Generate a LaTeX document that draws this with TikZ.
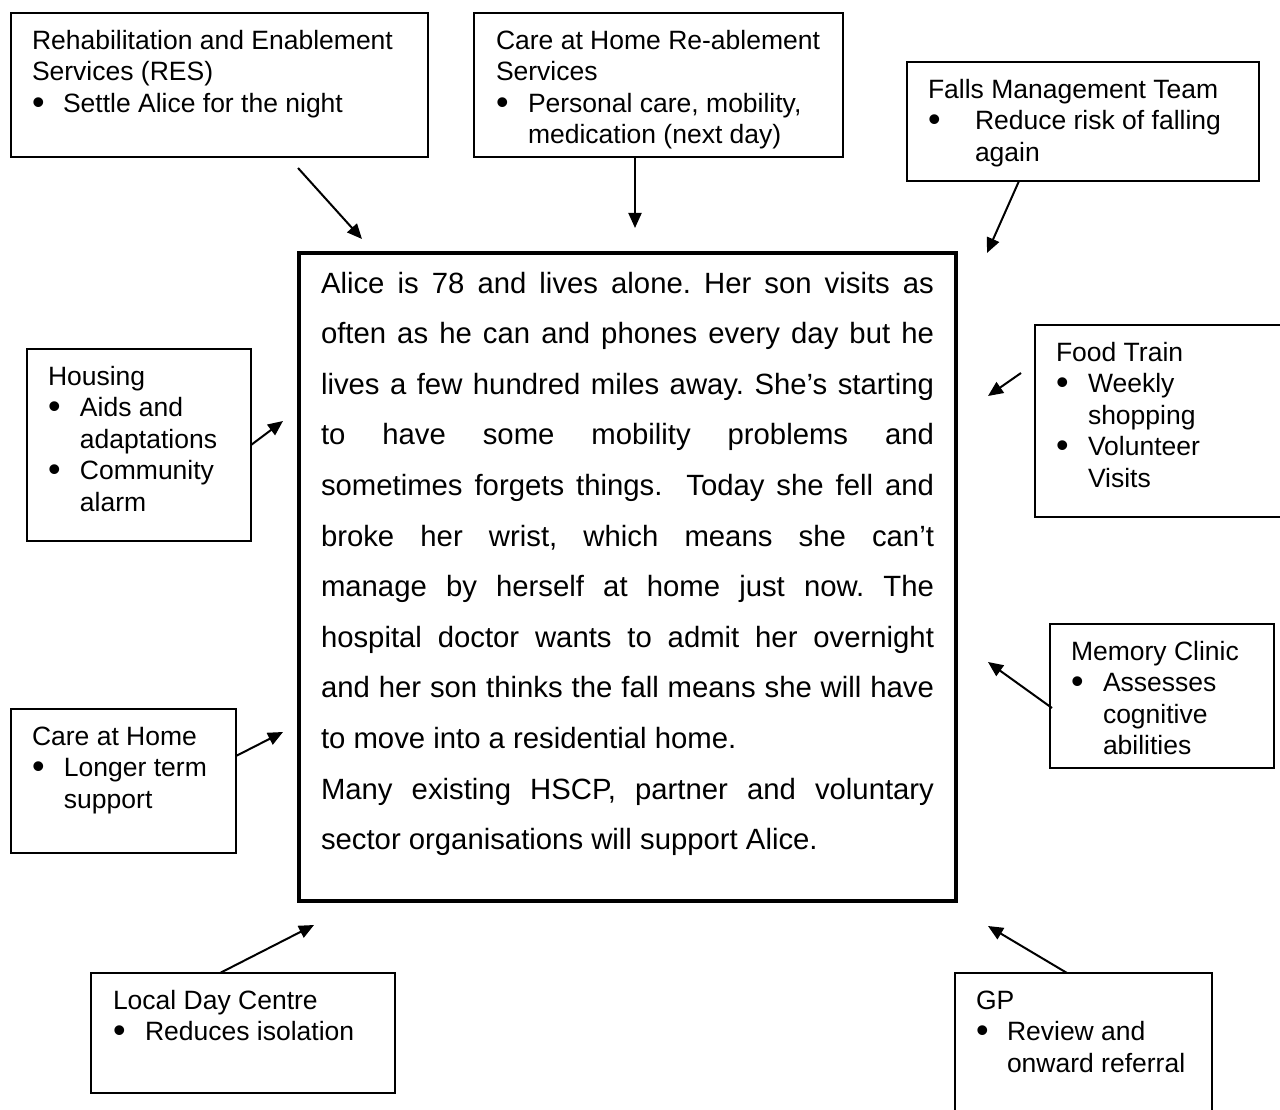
\documentclass[tikz,border=0pt]{standalone}
\usepackage{fontspec}
\usepackage{graphicx}
\setmainfont{Liberation Sans}
\usetikzlibrary{arrows.meta}
\newcommand{\smallfnt}{\fontsize{26.5}{31.5}\selectfont\frenchspacing}
\newcommand{\mainfnt}{\fontsize{29.3}{50.6}\selectfont\frenchspacing}
\newcommand{\bul}[2]{\makebox[#1][l]{\hspace{#2}\raisebox{-2pt}{\scalebox{1.35}{\textbullet}}}}
\newcommand{\ttl}[1]{\multicolumn{2}{@{}l@{}}{#1}}
\newcommand{\jl}[1]{\makebox[613pt][s]{#1}}
\begin{document}
\begin{tikzpicture}[x=1pt,y=-1pt,
  svc/.style={draw, line width=1.4pt, inner sep=0pt, outer sep=0pt, anchor=north west},
  svctext/.style={inner sep=0pt, outer sep=0pt, anchor=north west, align=left, font=\smallfnt},
  story/.style={draw, line width=3.5pt, inner sep=0pt, outer sep=0pt, anchor=north west},
  storytext/.style={inner sep=0pt, outer sep=0pt, anchor=north west, align=left, font=\mainfnt},
  link/.style={line width=2pt, -{Triangle[length=15pt,width=13pt]}}]
\useasboundingbox (0,0) rectangle (1280,1110);

% central story box
\node[story, minimum width=657pt, minimum height=648pt] (main) at (299,253) {};
\node[storytext] (maintext) at (321,257.6) {\begin{tabular}{@{}l@{}}
\jl{Alice is 78 and lives alone. Her son visits as}\\
\jl{often as he can and phones every day but he}\\
\jl{lives a few hundred miles away. She’s starting}\\
\jl{to have some mobility problems and}\\
\jl{sometimes forgets things.\ \ Today she fell and}\\
\jl{broke her wrist, which means she can’t}\\
\jl{manage by herself at home just now. The}\\
\jl{hospital doctor wants to admit her overnight}\\
\jl{and her son thinks the fall means she will have}\\
to move into a residential home.\\
\jl{Many existing HSCP, partner and voluntary}\\
sector organisations will support Alice.
\end{tabular}};

% service boxes
\node[svc, minimum width=417pt, minimum height=144pt] (res) at (11,13) {};
\node[svctext] (res-t) at (32,27) {\begin{tabular}{@{}l@{}l@{}}
\ttl{Rehabilitation and Enablement}\\
\ttl{Services (RES)}\\
\bul{31pt}{0pt} & Settle Alice for the night
\end{tabular}};

\node[svc, minimum width=369pt, minimum height=144pt] (reable) at (474,13) {};
\node[svctext] (reable-t) at (496,27) {\begin{tabular}{@{}l@{}l@{}}
\ttl{Care at Home Re-ablement}\\
\ttl{Services}\\
\bul{32pt}{0pt} & Personal care, mobility,\\
 & medication (next day)
\end{tabular}};

\node[svc, minimum width=352pt, minimum height=119pt] (falls) at (907,62) {};
\node[svctext] (falls-t) at (928,76) {\begin{tabular}{@{}l@{}l@{}}
\ttl{Falls Management Team}\\
\bul{47pt}{0pt} & Reduce risk of falling\\
 & again
\end{tabular}};

\node[svc, minimum width=247pt, minimum height=192pt] (food) at (1035,325) {};
\node[svctext] (food-t) at (1056,339) {\begin{tabular}{@{}l@{}l@{}}
\ttl{Food Train}\\
\bul{32pt}{0pt} & Weekly\\
 & shopping\\
\bul{32pt}{0pt} & Volunteer\\
 & Visits
\end{tabular}};

\node[svc, minimum width=224pt, minimum height=192pt] (housing) at (27,349) {};
\node[svctext] (housing-t) at (48,363) {\begin{tabular}{@{}l@{}l@{}}
\ttl{Housing}\\
\bul{32pt}{0pt} & Aids and\\
 & adaptations\\
\bul{32pt}{0pt} & Community\\
 & alarm
\end{tabular}};

\node[svc, minimum width=224pt, minimum height=144pt] (memory) at (1050,624) {};
\node[svctext] (memory-t) at (1071,638) {\begin{tabular}{@{}l@{}l@{}}
\ttl{Memory Clinic}\\
\bul{32pt}{0pt} & Assesses\\
 & cognitive\\
 & abilities
\end{tabular}};

\node[svc, minimum width=225pt, minimum height=144pt] (careh) at (11,709) {};
\node[svctext] (careh-t) at (32,723) {\begin{tabular}{@{}l@{}l@{}}
\ttl{Care at Home}\\
\bul{32pt}{0pt} & Longer term\\
 & support
\end{tabular}};

\node[svc, minimum width=304pt, minimum height=120pt] (day) at (91,973) {};
\node[svctext] (day-t) at (113,987) {\begin{tabular}{@{}l@{}l@{}}
\ttl{Local Day Centre}\\
\bul{32pt}{0pt} & Reduces isolation
\end{tabular}};

\node[svc, minimum width=257pt, minimum height=142pt] (gp) at (955,973) {};
\node[svctext] (gp-t) at (976,987) {\begin{tabular}{@{}l@{}l@{}}
\ttl{GP}\\
\bul{31pt}{0pt} & Review and\\
 & onward referral
\end{tabular}};

% connector end points
\coordinate (s-res) at (298,168);   \coordinate (e-res) at (362,239);
\coordinate (s-reable) at (635,157);\coordinate (e-reable) at (635,228);
\coordinate (s-falls) at (1019,181);\coordinate (e-falls) at (987,253);
\coordinate (s-food) at (1021,373); \coordinate (e-food) at (988,396);
\coordinate (s-memory) at (1052,708);\coordinate (e-memory) at (988,662);
\coordinate (s-gp) at (1067,973);   \coordinate (e-gp) at (988,926);
\coordinate (s-day) at (220,973);   \coordinate (e-day) at (314,925);
\coordinate (s-careh) at (236,756); \coordinate (e-careh) at (283,732);
\coordinate (s-housing) at (251,445);\coordinate (e-housing) at (283,421);

\draw[link] (s-res) -- (e-res);
\draw[link] (s-reable) -- (e-reable);
\draw[link] (s-falls) -- (e-falls);
\draw[link] (s-food) -- (e-food);
\draw[link] (s-memory) -- (e-memory);
\draw[link] (s-gp) -- (e-gp);
\draw[link] (s-day) -- (e-day);
\draw[link] (s-careh) -- (e-careh);
\draw[link] (s-housing) -- (e-housing);
\end{tikzpicture}
\end{document}
